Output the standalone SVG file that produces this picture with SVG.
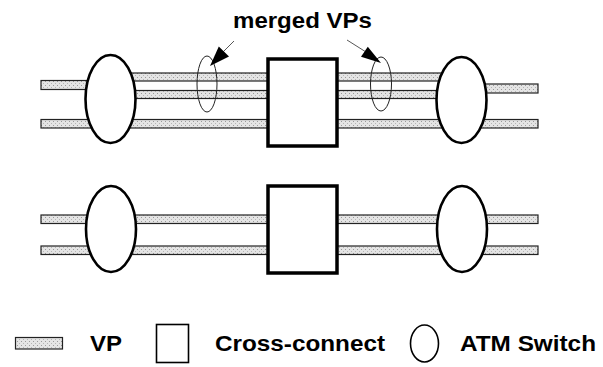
<svg xmlns="http://www.w3.org/2000/svg" width="603" height="367" viewBox="0 0 603 367">
<defs>
<pattern id="stip" width="4" height="4" patternUnits="userSpaceOnUse">
<rect width="4" height="4" fill="#e4e4e4"/>
<rect x="1" y="1" width="1" height="1" fill="#9a9a9a"/>
<rect x="3" y="3" width="1" height="1" fill="#b5b5b5"/>
</pattern>
</defs>
<style>
.vp{fill:url(#stip);stroke:#222;stroke-width:1.2}
.sw{fill:#fff;stroke:#000;stroke-width:2.6}
.xc{fill:#fff;stroke:#000;stroke-width:3.5}
.mg{fill:none;stroke:#222;stroke-width:1}
.ar{fill:none;stroke:#444;stroke-width:0.9}
.ah{fill:#000;stroke:none}
.lb{font-family:"Liberation Sans",Arial,sans-serif;font-weight:bold;font-size:22px;fill:#000}
</style>
<rect width="603" height="367" fill="#fff"/>
<g id="connectors">
<rect class="vp" x="41" y="80.5" width="60" height="9"/>
<rect class="vp" x="110" y="73" width="160" height="8"/>
<rect class="vp" x="110" y="90.5" width="160" height="8"/>
<rect class="vp" x="41" y="119.5" width="60" height="8.5"/>
<rect class="vp" x="110" y="119.5" width="160" height="8.5"/>
<rect class="vp" x="335" y="73" width="125" height="8"/>
<rect class="vp" x="335" y="90.5" width="125" height="8"/>
<rect class="vp" x="335" y="119.5" width="125" height="8.5"/>
<rect class="vp" x="470" y="84" width="68" height="9"/>
<rect class="vp" x="470" y="119.5" width="68" height="8.5"/>
<rect class="vp" x="41" y="215" width="229" height="8.5"/>
<rect class="vp" x="41" y="246" width="229" height="8.5"/>
<rect class="vp" x="335" y="215" width="203" height="8.5"/>
<rect class="vp" x="335" y="246" width="203" height="8.5"/>
</g>
<g id="switch-top-left"><ellipse class="sw" cx="110.5" cy="99" rx="25" ry="44"/></g>
<g id="switch-top-right"><ellipse class="sw" cx="461.5" cy="100" rx="25" ry="43"/></g>
<g id="xc-top"><rect class="xc" x="268" y="59" width="69" height="87"/></g>
<g id="switch-bottom-left"><ellipse class="sw" cx="111" cy="229" rx="25" ry="43"/></g>
<g id="switch-bottom-right"><ellipse class="sw" cx="462" cy="229" rx="25" ry="43"/></g>
<g id="xc-bottom"><rect class="xc" x="268" y="186" width="69" height="87"/></g>
<g id="merged-left"><ellipse class="mg" cx="207" cy="84" rx="10" ry="28"/></g>
<g id="merged-right"><ellipse class="mg" cx="381" cy="84" rx="10.5" ry="27"/></g>
<g id="label-merged">
<text class="lb" x="233" y="28" textLength="139" lengthAdjust="spacingAndGlyphs">merged VPs</text>
<line class="ar" x1="234" y1="41" x2="222" y2="53"/>
<polygon class="ah" points="210,66 229,56.4 218.8,46.6"/>
<line class="ar" x1="347" y1="40" x2="366" y2="52"/>
<polygon class="ah" points="381,63 361,56.8 367.8,46.8"/>
</g>
<g id="legend">
<rect class="vp" x="15.5" y="337.5" width="47" height="11.5" stroke-width="1.6"/>
<text class="lb" x="90" y="351" textLength="32" lengthAdjust="spacingAndGlyphs">VP</text>
<rect x="156.5" y="324.5" width="32" height="38" fill="#fff" stroke="#000" stroke-width="1.6"/>
<text class="lb" x="215" y="351" textLength="170" lengthAdjust="spacingAndGlyphs">Cross-connect</text>
<ellipse cx="424.5" cy="343.5" rx="14" ry="18.5" fill="none" stroke="#000" stroke-width="1.6"/>
<text class="lb" x="460" y="351" textLength="136" lengthAdjust="spacingAndGlyphs">ATM Switch</text>
</g>
</svg>
